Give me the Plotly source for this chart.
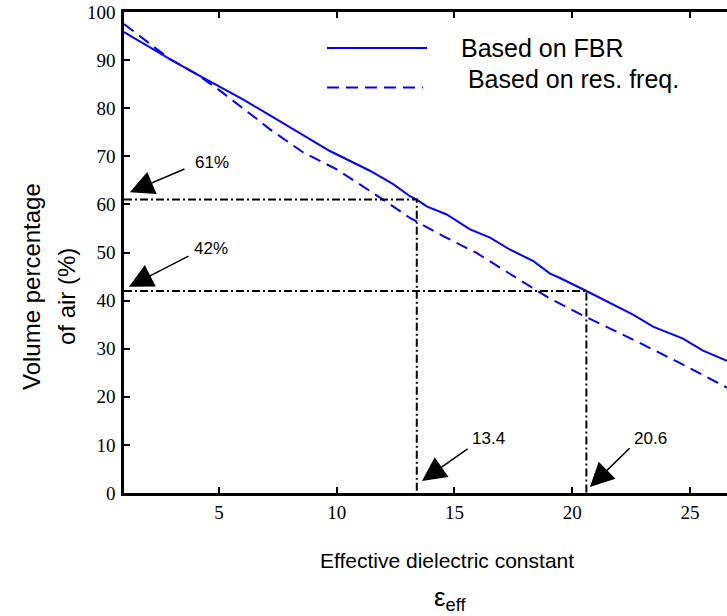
import plotly.graph_objects as go

# Volume percentage of air versus effective dielectric constant
eps_fbr = [0.97, 2.0, 2.92, 4.05, 5.0, 6.0, 7.17, 8.4, 9.71, 11.41, 12.4, 13.11,
           13.4, 13.82, 14.67, 15.66, 16.51, 17.36, 18.35, 19.06, 19.48, 20.6,
           21.31, 22.58, 23.43, 24.70, 25.55, 26.57]
air_fbr = [95.8, 92.8, 90.2, 87.1, 84.6, 81.9, 78.5, 74.9, 71.1, 67.0, 64.2, 61.7,
           61.0, 59.6, 57.9, 54.8, 53.1, 50.6, 48.2, 45.6, 44.7, 42.0,
           40.2, 37.1, 34.6, 32.1, 29.6, 27.5]

eps_res = [0.97, 2.0, 2.92, 4.05, 5.0, 6.6, 7.17, 8.58, 10.0, 11.84, 13.11, 14.52,
           15.94, 17.64, 19.06, 20.46, 22.58, 24.70, 26.57]
air_res = [97.5, 93.6, 90.2, 87.1, 83.8, 77.8, 75.6, 70.8, 67.3, 61.4, 57.2, 53.4,
           49.9, 44.7, 40.4, 36.9, 31.9, 26.7, 21.9]

# Read-off points on the FBR curve
marked_air = [61, 42]
marked_eps = [13.4, 20.6]

x_ticks = [5, 10, 15, 20, 25]
y_ticks = [0, 10, 20, 30, 40, 50, 60, 70, 80, 90, 100]

series_names = ["Based on FBR", " Based on res. freq."]

W, H = 727, 616
M_L, M_R, M_T, M_B = 124, 0, 12, 123
X_RANGE = [0.97, 26.57]
Y_RANGE = [0, 100]

BLUE = "#0000ff"
DASHDOT = "8px,3px,2px,3px"
SANS = "Liberation Sans, Arial, sans-serif"
SERIF = "Liberation Serif, Times New Roman, serif"


def px_to_paper(px, py):
    """Convert page pixels to paper coordinates of the plot area."""
    pw = W - M_L - M_R
    ph = H - M_T - M_B
    return (px - M_L) / pw, (H - M_B - py) / ph


fig = go.Figure()

fig.add_trace(go.Scatter(x=eps_fbr, y=air_fbr, mode="lines",
                         line=dict(color=BLUE, width=2), showlegend=False))
fig.add_trace(go.Scatter(x=eps_res, y=air_res, mode="lines",
                         line=dict(color=BLUE, width=2, dash="12px,7px"),
                         showlegend=False))

# Dash-dot guide lines from the y-axis to the curve and down to the x-axis
for a, e in zip(marked_air, marked_eps):
    fig.add_trace(go.Scatter(x=[X_RANGE[0], e, e], y=[a, a, Y_RANGE[0]],
                             mode="lines", showlegend=False,
                             line=dict(color="black", width=2, dash=DASHDOT)))

# Hand-drawn style legend
legend_rows = [(48, 427, "solid", 48), (87.5, 423, "12px,7px", 79)]
for (ly, x_end, dash, ty), name in zip(legend_rows, series_names):
    x0, y0 = px_to_paper(327, ly)
    x1, _ = px_to_paper(x_end, ly)
    fig.add_shape(type="line", xref="paper", yref="paper", x0=x0, x1=x1, y0=y0, y1=y0,
                  line=dict(color=BLUE, width=2, dash=dash))
    tpx, tpy = px_to_paper(459, ty)
    fig.add_annotation(xref="paper", yref="paper", x=tpx, y=tpy, text=name,
                       showarrow=False, xanchor="left", yanchor="middle",
                       font=dict(family=SANS, size=25, color="black"))

# Arrows pointing at the read-off values
arrow_specs = [
    # head (x, y), tail (x, y), label position (x, y), label
    ((1.22, 62.5), (3.60, 67.5), (3.90, 68.75), f"{marked_air[0]}%"),
    ((1.18, 42.9), (3.77, 49.4), (3.85, 50.8), f"{marked_air[1]}%"),
    ((13.62, 2.5), (15.62, 9.4), (15.66, 11.25), f"{marked_eps[0]}"),
    ((20.75, 1.25), (22.5, 9.6), (22.54, 11.25), f"{marked_eps[1]}"),
]
for (hx, hy), (tx, ty), (lx, ly), label in arrow_specs:
    fig.add_annotation(x=hx, y=hy, ax=tx, ay=ty, xref="x", yref="y",
                       axref="x", ayref="y", text="", showarrow=True,
                       arrowhead=2, arrowsize=3.2, arrowwidth=1.5,
                       arrowcolor="black", standoff=0, startstandoff=0)
    fig.add_annotation(x=lx, y=ly, xref="x", yref="y", text=label,
                       showarrow=False, xanchor="left", yanchor="middle",
                       font=dict(family=SANS, size=17, color="black"))

# Axis titles
for text, px, py in [("Volume percentage", 31, 287), ("of air (%)", 66, 297)]:
    ax_, ay_ = px_to_paper(px, py)
    fig.add_annotation(xref="paper", yref="paper", x=ax_, y=ay_, text=text,
                       textangle=-90, showarrow=False, xanchor="center",
                       yanchor="middle", font=dict(family=SANS, size=24, color="black"))

xt, yt = px_to_paper(447, 560)
fig.add_annotation(xref="paper", yref="paper", x=xt, y=yt,
                   text="Effective dielectric constant", showarrow=False,
                   xanchor="center", yanchor="middle",
                   font=dict(family=SANS, size=21, color="black"))
xe, ye = px_to_paper(450, 598)
fig.add_annotation(xref="paper", yref="paper", x=xe, y=ye,
                   text="ε<sub>eff</sub>", showarrow=False,
                   xanchor="center", yanchor="middle",
                   font=dict(family=SANS, size=26, color="black"))

fig.update_xaxes(range=X_RANGE, tickvals=x_ticks, ticktext=[str(v) for v in x_ticks],
                 showline=True, linecolor="black", linewidth=2.5, mirror="ticks",
                 ticks="inside", ticklen=6, tickwidth=2, tickcolor="black",
                 showgrid=False, zeroline=False, ticklabelstandoff=0,
                 tickfont=dict(family=SERIF, size=19, color="black"))
fig.update_yaxes(range=Y_RANGE, tickvals=y_ticks, ticktext=[str(v) for v in y_ticks],
                 showline=True, linecolor="black", linewidth=2.5, mirror=False,
                 ticks="inside", ticklen=6, tickwidth=2, tickcolor="black",
                 showgrid=False, zeroline=False, ticklabelstandoff=2,
                 tickfont=dict(family=SERIF, size=19, color="black"))

fig.update_layout(width=W, height=H, autosize=False,
                  margin=dict(l=M_L, r=M_R, t=M_T, b=M_B, pad=0),
                  plot_bgcolor="white", paper_bgcolor="white",
                  showlegend=False)

fig.write_html("out.html")
